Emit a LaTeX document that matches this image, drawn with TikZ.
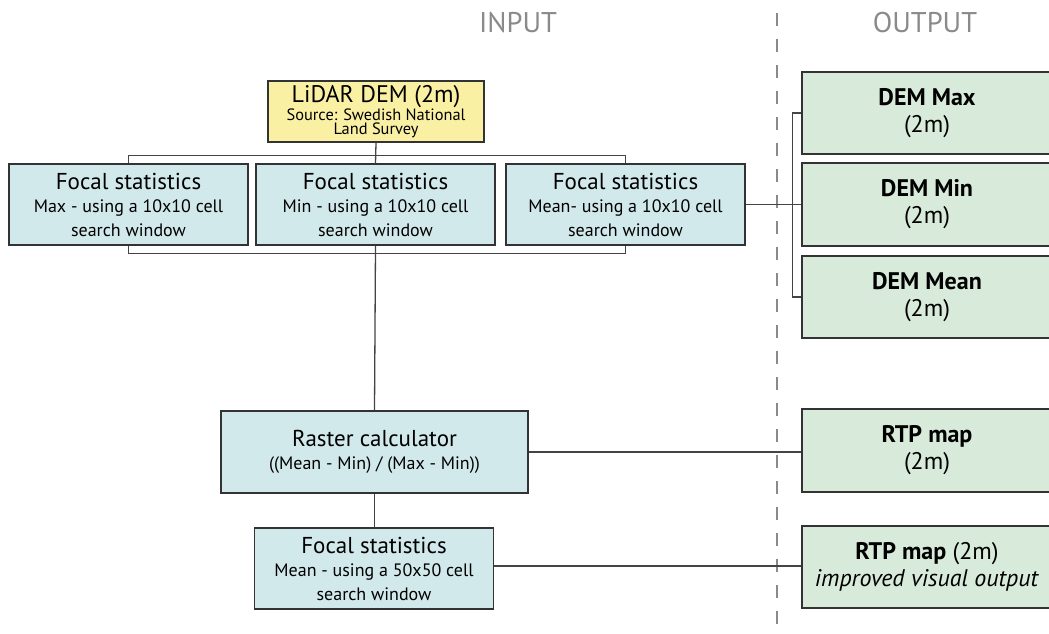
\documentclass[tikz,border=0pt]{standalone}
\usepackage{fontspec}
\setmainfont{PT Sans}
\usetikzlibrary{positioning}

\definecolor{boxline}{HTML}{333333}
\definecolor{linkgray}{HTML}{444444}
\definecolor{headgray}{HTML}{8A8A8A}
\definecolor{srcfill}{HTML}{FAF0A4}
\definecolor{procfill}{HTML}{D2E9EC}
\definecolor{outfill}{HTML}{D8EAD9}

\newcommand{\bigline}[1]{{\fontsize{23}{24}\selectfont #1}}

\tikzset{
    procbox/.style={draw=boxline, line width=1.5pt, fill=procfill,
        minimum width=239pt, minimum height=81pt, align=center, inner sep=0pt,
        font=\fontsize{18}{23.5}\selectfont},
    outbox/.style={draw=boxline, line width=1.5pt, fill=outfill,
        minimum width=250pt, minimum height=82pt, align=center, inner sep=0pt,
        font=\fontsize{24}{27}\selectfont},
    link/.style={draw=linkgray, line width=1.3pt},
    headtext/.style={text=headgray, anchor=base, font=\fontsize{28.5}{30}\selectfont},
    divider/.style={draw=headgray, line width=2pt, dash pattern=on 13pt off 13pt}
}

\begin{document}
\begin{tikzpicture}[x=1pt,y=-1pt]
    \clip (0,0) rectangle (1049,634);

    % Column headings and divider
    \node[headtext] (inhead) at (518,33) {INPUT};
    \node[headtext] (outhead) at (925,33) {OUTPUT};
    \draw[divider] (777,13) -- (777,634);

    % Source data
    \node[draw=boxline, line width=1.5pt, fill=srcfill, minimum width=216pt,
        minimum height=61pt, align=center, inner sep=0pt,
        font=\fontsize{16.4}{14.5}\selectfont] (lidar) at (376,111.5)
        {{\fontsize{24}{18}\selectfont LiDAR DEM (2m)}\\ Source: Swedish National\\ Land Survey};

    % Focal statistics (10x10)
    \node[procbox] (fmax) at (128.5,204.5)
        {\bigline{Focal statistics}\\ Max - using a 10x10 cell\\ search window};
    \node[procbox] (fmin) at (375.5,204.5)
        {\bigline{Focal statistics}\\ Min - using a 10x10 cell\\ search window};
    \node[procbox] (fmean) at (625.5,204.5)
        {\bigline{Focal statistics}\\ Mean- using a 10x10 cell\\ search window};

    % Raster calculator and final smoothing
    \node[procbox, minimum width=307pt, minimum height=82pt,
        font=\fontsize{18}{23}\selectfont] (raster) at (374.5,452)
        {\bigline{Raster calculator}\\ ((Mean - Min) / (Max - Min))};
    \node[procbox] (focal50) at (374,568.5)
        {\bigline{Focal statistics}\\ Mean - using a 50x50 cell\\ search window};

    % Outputs
    \node[outbox] (demmax) at (927,113) {\textbf{DEM Max}\\ (2m)};
    \node[outbox, minimum height=83pt] (demmin) at (927,204.5) {\textbf{DEM Min}\\ (2m)};
    \node[outbox] (demmean) at (927,297) {\textbf{DEM Mean}\\ (2m)};
    \node[outbox, minimum height=83pt] (rtp) at (927,450.5) {\textbf{RTP map}\\ (2m)};
    \node[outbox] (rtpsmooth) at (927,567) {\textbf{RTP map} (2m)\\ \textit{improved visual output}};

    % Connectors
    \draw[link] (lidar.south) -- (fmin.north);
    \draw[link] (fmax.north) -- ++(0,-8) -| (fmean.north);
    \draw[link] (fmax.south) -- ++(0,8) -| (fmean.south);
    \draw[link] (fmin.south) -- (raster.north);
    \draw[link] (raster.south) -- (raster.south |- focal50.north);
    \draw[link] (fmean.east) -- (fmean.east -| demmin.west);
    \draw[link] (demmax.west) -- ++(-9,0) |- (demmean.west);
    \draw[link] (raster.east) -- (raster.east -| rtp.west);
    \draw[link] (focal50.east |- 0,566) -- (rtpsmooth.west |- 0,566);
\end{tikzpicture}
\end{document}
